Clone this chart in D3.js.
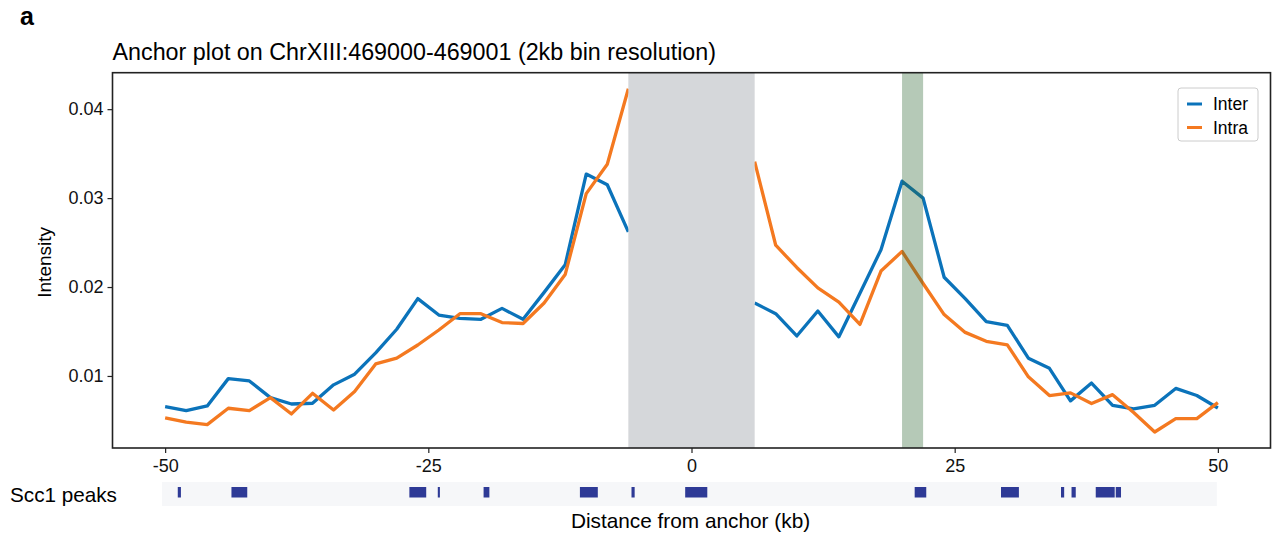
<!DOCTYPE html>
<html>
<head>
<meta charset="utf-8">
<script src="https://cdn.jsdelivr.net/npm/d3@7"></script>
<style>
  html, body { margin: 0; padding: 0; background: #ffffff; }
  svg { display: block; font-family: "Liberation Sans", Arial, Helvetica, sans-serif; }
</style>
</head>
<body>
<svg id="chart" width="1277" height="537"></svg>
<script>
// Distance from the anchor (kb), one bin every 2 kb
const positions = d3.range(-50, 51, 2);

// Contact intensity per bin; bins under the masked anchor window are null
const interValues = [
  0.00655, 0.0061, 0.00663, 0.0097, 0.00944, 0.00756, 0.00685, 0.00693, 0.0090, 0.0102,
  0.0126, 0.01525, 0.0187, 0.01685, 0.01648, 0.01637, 0.0176, 0.01637, 0.0194, 0.0225,
  0.0327, 0.0315, 0.0262, null, null, null, null, null, 0.0182, 0.0170,
  0.0145, 0.0173, 0.0144, 0.0193, 0.0242, 0.0319, 0.0300, 0.0211, 0.0187, 0.0161,
  0.0157, 0.0120, 0.01086, 0.0072, 0.0092, 0.0067, 0.0063, 0.0067, 0.0086, 0.0078,
  0.0064
];
const intraValues = [
  0.0053, 0.0048, 0.00453, 0.00637, 0.0061, 0.00756, 0.00573, 0.00805, 0.00618, 0.00824,
  0.01135, 0.0120, 0.01348, 0.01517, 0.0170, 0.0170, 0.0160, 0.0159, 0.0182, 0.0214,
  0.0305, 0.0338, 0.0423, null, null, null, null, null, 0.0341, 0.0247,
  0.0222, 0.0199, 0.0183, 0.0158, 0.0218, 0.0240, 0.0204, 0.0169, 0.0149, 0.0139,
  0.0135, 0.0099, 0.0078, 0.0081, 0.0069, 0.0079, 0.0059, 0.0037, 0.0052, 0.0052,
  0.0070
];

const seriesNames = ["Inter", "Intra"];
const seriesColors = ["#0b73ba", "#f47920"];

// Masked anchor window and highlighted bin (kb)
const anchorWindow = [-6, 6];
const highlightBin = [20, 22];

// Scc1 ChIP peaks (start, end in kb)
const peakStarts = [-48.8, -43.7, -26.8, -24.1, -19.75, -10.6, -5.7, -0.6, 21.2, 29.4, 35.1, 36.1, 38.4, 40.3];
const peakEnds   = [-48.5, -42.2, -25.2, -23.9, -19.2,  -8.9, -5.4,  1.5, 22.3, 31.1, 35.4, 36.5, 40.2, 40.8];

const xTicks = [-50, -25, 0, 25, 50];
const yTicks = [0.01, 0.02, 0.03, 0.04];

const svg = d3.select("#chart");
const plot = { left: 112.5, right: 1270.5, top: 72.7, bottom: 448 };

const x = d3.scaleLinear().domain([-55, 55]).range([plot.left, plot.right]);
const y = d3.scaleLinear().domain([0.0019, 0.0441]).range([plot.bottom, plot.top]);

// Panel letter and title
svg.append("text").attr("x", 20).attr("y", 25)
  .attr("font-size", 25).attr("font-weight", "bold").text("a");
svg.append("text").attr("x", plot.left).attr("y", 60)
  .attr("font-size", 23.3).text("Anchor plot on ChrXIII:469000-469001 (2kb bin resolution)");

svg.append("defs").append("clipPath").attr("id", "plot-clip")
  .append("rect").attr("x", plot.left).attr("y", plot.top)
  .attr("width", plot.right - plot.left).attr("height", plot.bottom - plot.top);

const body = svg.append("g").attr("clip-path", "url(#plot-clip)");

// Intensity profiles
const rows = [interValues, intraValues];
const line = d3.line()
  .defined(d => d.v !== null)
  .x(d => x(d.pos))
  .y(d => y(d.v));

rows.forEach((vals, i) => {
  const pts = positions.map((p, j) => ({ pos: p, v: vals[j] }));
  body.append("path")
    .datum(pts)
    .attr("fill", "none")
    .attr("stroke", seriesColors[i])
    .attr("stroke-width", 3.3)
    .attr("stroke-linejoin", "round")
    .attr("d", line);
});

// Masked anchor window (opaque) and highlighted bin (translucent)
body.append("rect")
  .attr("x", x(anchorWindow[0])).attr("width", x(anchorWindow[1]) - x(anchorWindow[0]))
  .attr("y", plot.top).attr("height", plot.bottom - plot.top)
  .attr("fill", "#d5d7da");
body.append("rect")
  .attr("x", x(highlightBin[0])).attr("width", x(highlightBin[1]) - x(highlightBin[0]))
  .attr("y", plot.top).attr("height", plot.bottom - plot.top)
  .attr("fill", "#2c6531").attr("fill-opacity", 0.35);

// Axes
const xAxis = svg.append("g").attr("transform", `translate(0,${plot.bottom})`)
  .call(d3.axisBottom(x).tickValues(xTicks).tickSize(5).tickPadding(6)
    .tickFormat(d => String(d)));
const yAxis = svg.append("g").attr("transform", `translate(${plot.left},0)`)
  .call(d3.axisLeft(y).tickValues(yTicks).tickSize(5).tickPadding(4)
    .tickFormat(d3.format(".2f")));
[xAxis, yAxis].forEach(g => {
  g.select(".domain").remove();
  g.selectAll(".tick line").attr("stroke", "#222").attr("stroke-width", 1.2);
  g.selectAll(".tick text").attr("font-size", 18).attr("fill", "#111")
    .attr("font-family", "'Liberation Sans', Arial, sans-serif");
});

// Frame
svg.append("rect")
  .attr("x", plot.left).attr("y", plot.top)
  .attr("width", plot.right - plot.left).attr("height", plot.bottom - plot.top)
  .attr("fill", "none").attr("stroke", "#222").attr("stroke-width", 1.6);

// Axis labels
svg.append("text")
  .attr("transform", `translate(51,${(plot.top + plot.bottom) / 2 + 2}) rotate(-90)`)
  .attr("text-anchor", "middle").attr("font-size", 19).text("Intensity");
svg.append("text")
  .attr("x", (plot.left + plot.right) / 2 - 1).attr("y", 528)
  .attr("text-anchor", "middle").attr("font-size", 20.8).text("Distance from anchor (kb)");

// Legend
const legend = svg.append("g");
legend.append("rect").attr("x", 1178).attr("y", 88).attr("width", 80).attr("height", 53)
  .attr("rx", 3).attr("fill", "#ffffff").attr("fill-opacity", 0.8)
  .attr("stroke", "#cccccc").attr("stroke-width", 1);
seriesNames.forEach((name, i) => {
  const ly = 104 + i * 23.5;
  legend.append("line").attr("x1", 1187).attr("x2", 1202).attr("y1", ly).attr("y2", ly)
    .attr("stroke", seriesColors[i]).attr("stroke-width", 3);
  legend.append("text").attr("x", 1213).attr("y", ly + 6)
    .attr("font-size", 17.5).text(name);
});

// Scc1 peak track
svg.append("text").attr("x", 10).attr("y", 502).attr("font-size", 20.7).text("Scc1 peaks");
svg.append("rect")
  .attr("x", x(-50.3)).attr("width", x(49.9) - x(-50.3))
  .attr("y", 482).attr("height", 24)
  .attr("fill", "#f6f7f9");
svg.append("g").selectAll("rect")
  .data(peakStarts.map((s, i) => [s, peakEnds[i]]))
  .join("rect")
  .attr("x", d => x(d[0]))
  .attr("width", d => x(d[1]) - x(d[0]))
  .attr("y", 487).attr("height", 10.5)
  .attr("fill", "#2e3a96");
</script>
</body>
</html>
